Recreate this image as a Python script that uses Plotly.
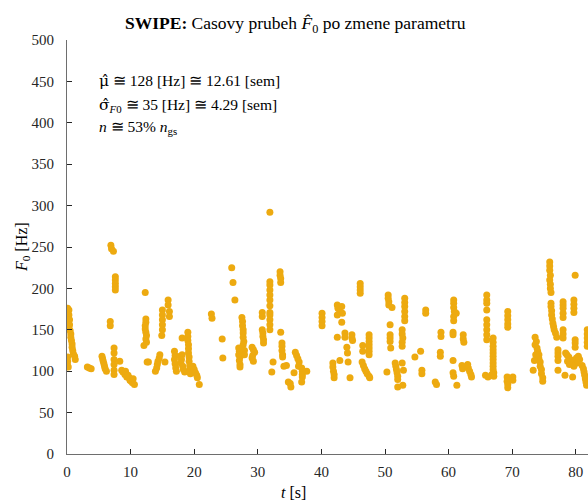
import plotly.graph_objects as go

# ---- data: (time [s], F0 [Hz]), grouped by time span ----
t_00_10 = [0.1, 0.3, 0.1, 0.3, 0.2, 0.4, 0.2, 0.4, 0.3, 0.5, 0.6, 0.6, 0.7, 0.8, 0.8, 0.9, 1.0, 1.2, 1.3,
           0.1, 0.1, 0.05, 0.2, 3.2, 3.5, 3.8,
           5.5, 5.6, 5.7, 5.8, 5.9, 6.0, 6.2, 6.8, 6.8, 6.9, 7.0, 7.3,
           7.6, 7.6, 7.6, 7.6, 7.6, 7.4, 7.4, 7.4, 7.4, 7.4, 7.4, 8.3, 8.6,
           8.8, 9.1, 9.2, 9.4, 9.6, 9.8, 9.9, 10.1, 10.3, 10.4, 10.6]
f_00_10 = [176, 174, 171, 168, 165, 162, 159, 156, 153, 149, 145, 141, 137, 133, 129, 125, 121, 118, 114,
           117, 112, 108, 105, 105, 104, 103,
           118, 115, 112, 109, 106, 103, 100, 160, 155, 252, 248, 245,
           214, 210, 206, 202, 198, 128, 122, 114, 108, 101, 96, 112, 101,
           99, 96, 100, 93, 95, 92, 89, 88, 86, 91, 84]

t_10_20 = [12.3, 12.4, 12.4, 12.3, 12.3, 12.4, 12.5, 12.4, 12.5, 12.1, 12.6, 12.8,
           14.6, 14.5, 14.3, 14.2, 14.1, 13.9,
           15.0, 15.0, 15.0, 15.0, 15.0, 14.9, 15.9, 15.9, 16.1, 16.1, 15.4,
           16.9, 17.0, 16.9, 17.0, 17.1, 17.2, 18.1,
           18.1, 17.8, 18.0, 17.9, 18.2, 18.3, 18.5,
           19.0, 19.0, 19.0, 19.1, 19.1, 19.1, 19.2, 19.2, 19.3, 19.3, 19.4,
           19.8, 20.0, 20.2, 20.4, 20.5, 20.8]
f_10_20 = [195, 163, 159, 155, 151, 147, 143, 139, 135, 131, 111, 111,
           120, 116, 112, 108, 104, 100,
           174, 168, 162, 156, 150, 143, 186, 180, 172, 166, 111,
           124, 119, 114, 109, 104, 100, 140,
           120, 118, 114, 110, 106, 102, 99,
           147, 142, 137, 132, 127, 122, 117, 112, 107, 102, 97,
           106, 102, 98, 95, 92, 84]

t_20_31 = [22.7, 22.8, 24.4, 24.5, 25.9, 26.1, 26.4,
           27.5, 27.6, 27.6, 27.7, 27.7, 27.7, 27.8, 27.7,
           27.0, 27.1, 27.0, 27.2, 27.1, 27.2, 27.2, 27.9, 27.9,
           29.1, 29.3, 29.5, 29.2, 29.1, 29.3,
           30.7, 30.7, 30.7, 30.8, 30.8, 30.9, 30.9]
f_20_31 = [169, 164, 139, 116, 225, 207, 186,
           165, 160, 155, 150, 146, 141, 136, 132,
           128, 124, 120, 117, 113, 108, 105, 125, 120,
           129, 126, 123, 119, 116, 112,
           171, 166, 150, 146, 142, 138, 134]

t_31_41 = [31.9, 31.9, 31.9, 31.9, 31.9, 31.9, 31.9, 31.9, 31.9, 31.9, 31.9, 31.9,
           33.5, 33.5, 33.6, 33.6, 33.6, 33.8, 33.8, 33.8, 33.9, 33.9,
           32.4, 32.2, 34.1, 34.5, 34.8, 35.1, 35.2,
           35.9, 36.1, 36.3, 36.5, 36.4, 35.7,
           36.9, 37.0, 37.0, 37.0, 36.9, 37.7,
           40.1, 40.1, 40.1, 40.1]
f_31_41 = [292, 208, 204, 198, 192, 186, 179, 171, 168, 162, 156, 150,
           220, 216, 212, 207, 147, 134, 130, 125, 120, 117,
           111, 99, 106, 107, 87, 85, 81,
           123, 119, 115, 111, 106, 98,
           104, 100, 96, 93, 87, 100,
           170, 165, 160, 155]

t_41_50 = [41.8, 41.8, 41.9, 42.0, 42.0,
           42.5, 42.6, 42.9, 43.2, 43.3, 42.5, 43.2, 42.5,
           43.7, 43.7, 44.8, 44.8, 44.9, 44.0, 44.1, 44.2, 42.9, 44.5,
           46.1, 46.1, 46.1, 46.1, 46.5, 46.5, 46.4,
           46.6, 46.8, 47.0, 47.2, 47.5, 47.6,
           47.5, 47.5, 47.5, 47.5, 47.5, 47.5, 47.5]
f_41_50 = [110, 105, 100, 96, 92,
           180, 176, 172, 178, 170, 168, 159, 141,
           146, 141, 144, 140, 137, 129, 122, 111, 113, 92,
           206, 202, 198, 194, 131, 124, 111,
           107, 103, 100, 97, 94, 92,
           144, 140, 136, 132, 128, 124, 120]

t_50_61 = [50.5, 50.5, 50.6, 50.6, 51.1, 50.8, 50.8, 50.8, 50.8, 50.9, 50.3,
           51.6, 51.7, 51.8, 51.9, 52.0, 52.0, 52.0, 52.8, 52.7, 52.9,
           53.1, 53.1, 53.1, 53.1, 53.1, 53.1,
           52.7, 52.7, 52.8, 52.7, 52.7,
           54.7, 55.6, 55.8, 55.8, 56.4, 56.4, 57.9, 58.1,
           58.8, 58.8, 58.7, 58.7,
           60.8, 60.8, 60.8, 60.9, 60.8, 60.8, 61.2, 60.7, 60.7, 60.7, 60.7, 60.8]
f_50_61 = [192, 188, 184, 180, 177, 156, 144, 140, 136, 128, 99,
           110, 106, 102, 98, 94, 90, 81, 83, 110, 101,
           188, 183, 178, 172, 166, 161,
           150, 145, 140, 135, 130,
           117, 124, 101, 97, 174, 170, 87, 84,
           147, 142, 123, 118,
           186, 182, 177, 172, 166, 161, 170, 147, 144, 113, 98, 94]

t_61_71 = [61.3, 62.1, 62.2, 62.3, 62.3, 62.4,
           63.0, 63.1, 63.3, 63.5, 63.6,
           66.0, 66.0, 66.0, 66.0, 66.0, 66.0, 66.0, 66.0, 66.0,
           67.0, 67.0, 67.0, 67.0, 67.0, 67.0, 67.0, 67.0, 67.0, 67.0, 67.1, 67.1, 66.8,
           65.8, 66.2,
           69.3, 69.3, 69.3, 69.3, 69.3, 69.2, 69.2, 69.3, 69.3, 70.1, 70.1]
f_61_71 = [83, 107, 103, 144, 139, 135,
           108, 104, 100, 96, 93,
           192, 186, 182, 174, 162, 156, 150, 144, 138,
           140, 135, 130, 126, 122, 118, 114, 110, 106, 102, 98, 94, 96,
           95, 93,
           172, 167, 162, 157, 153, 93, 88, 84, 80, 93, 89]

t_71_82 = [73.3, 73.6, 73.8, 73.6, 73.9, 74.0, 74.2, 74.2, 74.4, 74.4, 74.6, 74.6, 74.8, 74.8, 73.7, 73.5,
           75.9, 75.9, 75.9, 76.0, 75.9, 76.0, 76.0, 76.1,
           76.1, 76.1, 76.2, 76.2, 76.3, 76.4, 76.5, 76.6, 76.8, 77.0,
           77.2, 77.2, 77.2, 77.2, 77.2, 79.9,
           78.0, 78.0, 78.0, 78.0, 78.0, 79.7, 79.7, 79.7, 79.7,
           78.0, 78.0, 78.0, 79.9, 79.9, 79.9,
           78.4, 78.6, 78.9, 79.1, 79.3, 79.5, 79.8, 80.1, 80.4, 80.6, 80.2, 79.7, 78.7, 79.0,
           78.3, 79.5,
           81.0, 81.2, 81.3, 81.4, 81.5, 81.6, 81.7,
           81.8, 81.8, 81.8, 81.8, 81.8]
f_71_82 = [101, 141, 136, 132, 128, 124, 120, 115, 111, 106, 102, 97, 92, 88, 120, 113,
           232, 227, 222, 216, 210, 205, 200, 195,
           182, 178, 173, 168, 163, 158, 154, 150, 146, 141,
           126, 122, 118, 113, 101, 216,
           184, 180, 176, 170, 165, 186, 181, 176, 171,
           150, 145, 140, 138, 134, 129,
           122, 120, 117, 114, 112, 110, 113, 116, 118, 114, 110, 106, 112, 108,
           95, 93,
           107, 103, 99, 95, 91, 87, 83,
           150, 145, 140, 135, 130]

x_ticks = [0, 10, 20, 30, 40, 50, 60, 70, 80]
y_ticks = [0, 50, 100, 150, 200, 250, 300, 350, 400, 450, 500]

t_all = t_00_10 + t_10_20 + t_20_31 + t_31_41 + t_41_50 + t_50_61 + t_61_71 + t_71_82
f_all = f_00_10 + f_10_20 + f_20_31 + f_31_41 + f_41_50 + f_50_61 + f_61_71 + f_71_82

FONT = "Liberation Serif, DejaVu Serif, serif"
W, H = 588, 503
L, R, T, B = 67, 0, 40, 49

fig = go.Figure()
fig.add_trace(go.Scatter(
    x=t_all, y=f_all, mode="markers",
    marker=dict(color="#EDAA10", size=7, line=dict(width=0)),
    showlegend=False, hoverinfo="skip"))

axis_common = dict(
    showline=True, linecolor="#6e6e6e", linewidth=1,
    ticks="inside", ticklen=5, tickcolor="#262626", tickwidth=1,
    showgrid=False, zeroline=False, mirror=False,
    tickfont=dict(family=FONT, size=15, color="#262626"),
)
fig.update_xaxes(range=[0, (W - L) / 6.36], tickvals=x_ticks,
                 ticklabelstandoff=4, **axis_common)
fig.update_yaxes(range=[0, 500], tickvals=y_ticks,
                 ticklabelstandoff=9, **axis_common)

def px_x(p):
    return (p - L) / (W - L - R)

def px_y(p):
    return (H - B - p) / (H - T - B)

GREEK = "<span style='font-family:DejaVu Serif'>%s</span>"

ann = []
ann.append(dict(text="<b>SWIPE:</b> Casovy prubeh <i>F\u0302</i><sub>0</sub> po zmene parametru",
                x=px_x(295), y=px_y(24), xref="paper", yref="paper",
                xanchor="center", yanchor="middle", showarrow=False,
                font=dict(family=FONT, size=17.5, color="#000")))
ann.append(dict(text="<i>F</i><sub>0</sub> [Hz]", x=px_x(22), y=px_y(247),
                xref="paper", yref="paper", textangle=-90,
                xanchor="center", yanchor="middle", showarrow=False,
                font=dict(family=FONT, size=16, color="#000")))
ann.append(dict(text="<i>t</i> [s]", x=px_x(293), y=px_y(492),
                xref="paper", yref="paper",
                xanchor="center", yanchor="middle", showarrow=False,
                font=dict(family=FONT, size=16, color="#000")))
stats = [
    (GREEK % "\u03bc\u0302" + " \u2245 128 [Hz] \u2245 12.61 [sem]", 81),
    (GREEK % "\u03c3\u0302" + "<sub><i>F</i>0</sub> \u2245 35 [Hz] \u2245 4.29 [sem]", 105),
    ("<i>n</i> \u2245 53% <i>n</i><sub>gs</sub>", 128),
]
for txt, py in stats:
    ann.append(dict(text=txt, x=px_x(97), y=px_y(py), xref="paper", yref="paper",
                    xanchor="left", yanchor="middle", showarrow=False,
                    font=dict(family=FONT, size=15.5, color="#000")))

fig.update_layout(
    width=W, height=H,
    margin=dict(l=L, r=R, t=T, b=B, pad=0),
    paper_bgcolor="white", plot_bgcolor="white",
    annotations=ann,
)
fig.write_html("out.html")
